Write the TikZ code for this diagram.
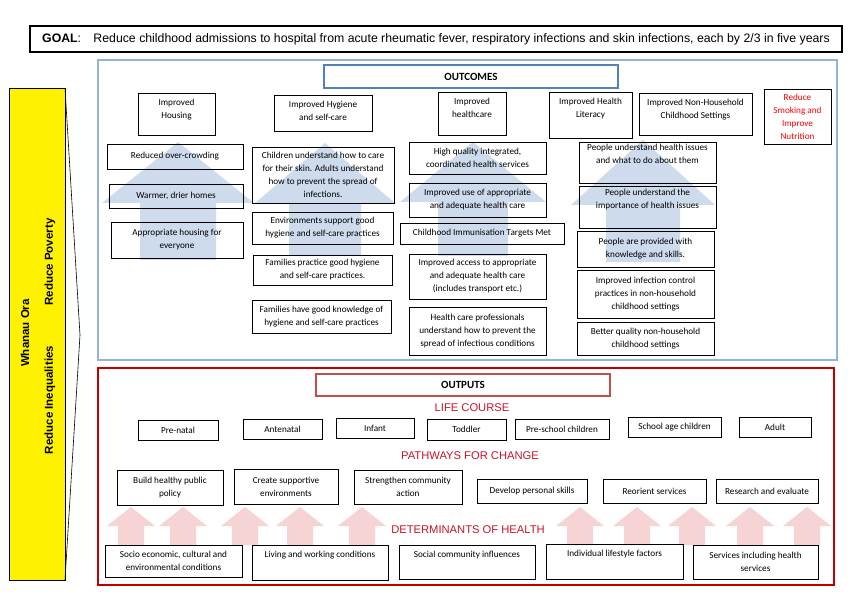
\documentclass[tikz,border=0pt]{standalone}
\usepackage{fontspec}
\setmainfont{Carlito}
\newfontfamily\arialfont{Liberation Sans}
\definecolor{outblue}{RGB}{149,179,215}
\definecolor{titleblue}{RGB}{79,129,189}
\definecolor{outred}{RGB}{192,0,0}
\definecolor{titlered}{RGB}{192,80,77}
\definecolor{headred}{RGB}{200,20,40}
\definecolor{smokered}{RGB}{255,0,0}
\definecolor{arrowblue}{RGB}{205,219,236}
\definecolor{arrowpink}{RGB}{246,212,212}
\newcommand{\cellfont}{\fontsize{9.2}{13}\selectfont}
\tikzset{
	cell/.style={draw, line width=0.7pt, align=center, font=\cellfont, inner sep=1pt},
	tcell/.style={cell, label={[font=\cellfont, align=center, anchor=north, yshift=-3pt]north:#1}},
	titlebox/.style={draw, line width=2.2pt, font=\fontsize{11}{13}\selectfont\bfseries},
	heading/.style={text=headred, font=\arialfont\fontsize{11.2}{13}\selectfont},
	side/.style={rotate=90, font=\arialfont\fontsize{11.5}{13}\selectfont\bfseries},
}
\begin{document}
\begin{tikzpicture}[x=1pt,y=-1pt]
	\useasboundingbox (0,0) rectangle (850,593);
	\fill[white] (0,0) rectangle (850,593);
	% background arrows
	\foreach \cx/\tip/\hw/\hb/\sw/\bot in {178/142/76/203/38/260, 325/143/71/204/36/255, 473/142/73/202/35/256, 643/140/72/205/37/262}
		\fill[arrowblue] (\cx-\hw,\hb) -- (\cx,\tip) -- (\cx+\hw,\hb) -- (\cx+\sw,\hb) -- (\cx+\sw,\bot) -- (\cx-\sw,\bot) -- (\cx-\sw,\hb) -- cycle;
	\foreach \cx in {131,183,245,300,362,580,637,692,750,807}
		\fill[arrowpink] (\cx-24,526) -- (\cx,507) -- (\cx+24,526) -- (\cx+13,526) -- (\cx+13,545) -- (\cx-13,545) -- (\cx-13,526) -- cycle;
	% frames
	\draw[outblue, line width=1.5pt] (98,60) rectangle (837,360);
	\draw[outred, line width=2.2pt] (98,368) rectangle (834,585);
	\draw[fill=yellow, line width=0.6pt] (9,88) rectangle (65,580);
	\draw[line width=0.6pt] (65,88) -- (80,335) -- (65,580);
	\node[side] (ora) at (25,333) {Whanau Ora};
	\node[side] (poverty) at (50,262) {Reduce Poverty};
	\node[side] (inequal) at (50,400) {Reduce Inequalities};
	% goal
	\node[draw, line width=1.8pt, minimum width=812, minimum height=26, inner sep=0pt, font=\arialfont\fontsize{12.3}{14}\selectfont] (goal) at (436,39) {\textbf{GOAL}:\quad Reduce childhood admissions to hospital from acute rheumatic fever, respiratory infections and skin infections, each by 2/3 in five years};
	% outcomes
	\node[titlebox, draw=titleblue, minimum width=294, minimum height=23] (outcomes) at (471,76.5) {OUTCOMES};
	\node[tcell={Improved\\Housing}, minimum width=77, minimum height=42] (housing) at (176.5,114) {};
	\node[tcell={Improved Hygiene\\and self-care}, minimum width=98, minimum height=36] (hygiene) at (323,113) {};
	\node[tcell={Improved\\healthcare}, minimum width=68, minimum height=43] (healthcare) at (472,113.5) {};
	\node[tcell={Improved Health\\Literacy}, minimum width=83, minimum height=46] (literacy) at (590.5,115) {};
	\node[tcell={Improved Non-Household\\Childhood Settings}, minimum width=113, minimum height=42] (settings) at (695.5,114) {};
	\node[cell, text=smokered, minimum width=67, minimum height=55] (smoking) at (797.5,116.5) {Reduce\\Smoking and\\Improve\\Nutrition};
	\node[cell, minimum width=136, minimum height=25] (crowding) at (175,156.5) {Reduced over-crowding};
	\node[cell, minimum width=134, minimum height=24] (warmer) at (176,196) {Warmer, drier homes};
	\node[cell, minimum width=132, minimum height=36] (appropriate) at (177,240) {Appropriate housing for\\everyone};
	\node[cell, minimum width=142, minimum height=56] (skin) at (323,175) {Children understand how to care\\for their skin. Adults understand\\how to prevent the spread of\\infections.};
	\node[cell, minimum width=141, minimum height=32] (environ) at (322.5,228) {Environments support good\\hygiene and self-care practices};
	\node[cell, minimum width=139, minimum height=30] (practice) at (322.5,270) {Families practice good hygiene\\and self-care practices.};
	\node[cell, minimum width=139, minimum height=33] (knowledge) at (321.5,316.5) {Families have good knowledge of\\hygiene and self-care practices};
	\node[cell, minimum width=137, minimum height=32] (quality) at (477.5,158) {High quality integrated,\\coordinated health services};
	\node[cell, minimum width=137, minimum height=34] (use) at (477.5,200) {Improved use of appropriate\\and adequate health care};
	\node[cell, minimum width=164, minimum height=21] (immun) at (482,233.5) {Childhood Immunisation Targets Met};
	\node[cell, minimum width=137, minimum height=45] (access) at (477.5,276.5) {Improved access to appropriate\\and adequate health care\\(includes transport etc.)};
	\node[cell, minimum width=137, minimum height=48] (profs) at (477.5,331) {Health care professionals\\understand how to prevent the\\spread of infectious conditions};
	\node[cell, minimum width=137, minimum height=41] (issues) at (647.5,162.5) {People understand health issues\\and what to do about them\\[4pt]};
	\node[cell, minimum width=137, minimum height=42] (importance) at (647.5,207) {People understand the\\importance of health issues\\[4pt]};
	\node[cell, minimum width=137, minimum height=36] (provided) at (645.5,249) {People are provided with\\knowledge and skills.};
	\node[cell, minimum width=137, minimum height=48] (infection) at (645.5,294) {Improved infection control\\practices in non-household\\childhood settings};
	\node[cell, minimum width=137, minimum height=33] (better) at (645.5,338.5) {Better quality non-household\\childhood settings};
	% outputs
	\node[titlebox, draw=titlered, minimum width=294, minimum height=22] (outputs) at (463,385) {OUTPUTS};
	\node[heading] (life) at (472,408) {LIFE COURSE};
	\node[cell, minimum width=80, minimum height=20] (prenatal) at (178,430) {Pre-natal};
	\node[cell, minimum width=79, minimum height=20] (antenatal) at (282.5,429) {Antenatal};
	\node[cell, minimum width=78, minimum height=20] (infant) at (375,428) {Infant};
	\node[cell, minimum width=79, minimum height=21] (toddler) at (466.5,429.5) {Toddler};
	\node[cell, minimum width=94, minimum height=20] (preschool) at (562,429) {Pre-school children};
	\node[cell, minimum width=93, minimum height=20] (school) at (674.5,427) {School age children};
	\node[cell, minimum width=72, minimum height=20] (adult) at (775,427) {Adult};
	\node[heading] (pathways) at (470,456) {PATHWAYS FOR CHANGE};
	\node[cell, minimum width=106, minimum height=35] (policy) at (170,487.5) {Build healthy public\\policy};
	\node[cell, minimum width=104, minimum height=35] (supportive) at (286,486.5) {Create supportive\\environments};
	\node[cell, minimum width=108, minimum height=34] (community) at (408,487) {Strengthen community\\action};
	\node[cell, minimum width=110, minimum height=24] (personal) at (532,491) {Develop personal skills};
	\node[cell, minimum width=103, minimum height=24] (reorient) at (654.5,491) {Reorient services};
	\node[cell, minimum width=102, minimum height=24] (research) at (767,491) {Research and evaluate};
	\node[heading] (determinants) at (468,530) {DETERMINANTS OF HEALTH};
	\node[cell, minimum width=137, minimum height=32] (socio) at (173.5,561) {Socio economic, cultural and\\environmental conditions};
	\node[tcell={Living and working conditions}, minimum width=136, minimum height=35] (living) at (320,562.5) {};
	\node[tcell={Social community influences}, minimum width=136, minimum height=34] (social) at (467,562) {};
	\node[tcell={Individual lifestyle factors}, minimum width=137, minimum height=35] (lifestyle) at (614.5,561.5) {};
	\node[cell, minimum width=125, minimum height=34] (services) at (755.5,562) {Services including health\\services};
\end{tikzpicture}
\end{document}
